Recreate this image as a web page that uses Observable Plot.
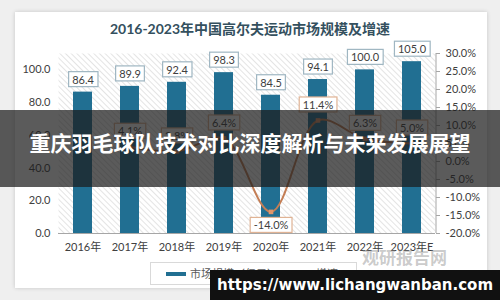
<!DOCTYPE html>
<html><head><meta charset="utf-8">
<script src="https://cdn.jsdelivr.net/npm/d3@7"></script>
<script src="https://cdn.jsdelivr.net/npm/@observablehq/plot@0.6"></script>
<style>
body{margin:0;background:#efefef;}
#wrap{position:relative;width:500px;height:300px;overflow:hidden;background:#efefef;font-family:Lato,"Noto Sans CJK SC",sans-serif;}
#card{position:absolute;left:15px;top:12px;width:472px;height:276px;background:#fff;box-shadow:0 0 4px rgba(0,0,0,0.18);}
#title{position:absolute;left:0;width:500px;top:19px;text-align:center;font-size:14px;font-weight:bold;color:#34505e;line-height:20px;}
#chart{position:absolute;left:0;top:0;}
#legend{position:absolute;left:150px;top:262px;width:205px;height:21px;border:1px solid #d9d9d9;background:#fff;font-size:11px;color:#595959;line-height:21px;}
#legend .sw1{position:absolute;left:15px;top:9px;width:20px;height:4px;background:#216f92;}
#legend .t1{position:absolute;left:39px;top:0;}
#legend .sw2{position:absolute;left:140px;top:10px;width:20px;height:2px;background:#c47e55;}
#legend .sq{position:absolute;left:147px;top:8px;width:6px;height:6px;background:#e0956a;}
#legend .t2{position:absolute;left:165px;top:0;}
#wm{position:absolute;left:362px;top:244px;font-size:17px;font-weight:bold;color:rgba(140,140,140,0.45);font-family:"Noto Sans CJK SC",sans-serif;}
#banner{position:absolute;left:0;top:110px;width:500px;height:77px;background:rgba(28,28,28,0.72);}
#banner div{position:absolute;left:0;width:500px;top:18px;text-align:center;color:#fff;font-weight:bold;font-size:21px;line-height:28px;font-family:"Noto Sans CJK SC",sans-serif;}
#footer{position:absolute;left:210px;top:270px;width:290px;height:30px;background:#111;color:#fff;font-weight:bold;font-size:15px;line-height:30px;text-align:center;font-family:"DejaVu Sans",sans-serif;}
</style>
</head><body>
<div id="wrap">
  <div id="card"></div>
  <div id="chart"></div>
  <div id="title">2016-2023年中国高尔夫运动市场规模及增速</div>
  <div id="legend"><span class="sw1"></span><span class="t1">市场规模（亿元）</span><span class="sw2"></span><span class="sq"></span><span class="t2">增速</span></div>
  <div id="wm">观研报告网</div>
  <div id="banner"><div>重庆羽毛球队技术对比深度解析与未来发展展望</div></div>
  <div id="footer">https://www.lichangwanban.com</div>
</div>
<script>
const years = ["2016年","2017年","2018年","2019年","2020年","2021年","2022年","2023年E"];
const marketSize = [86.4, 89.9, 92.4, 98.3, 84.5, 94.1, 100.0, 105.0];
const growthYears = ["2017年","2018年","2019年","2020年","2021年","2022年","2023年E"];
const growthRates = [4.1, 2.8, 6.4, -14.0, 11.4, 6.3, 5.0];
const leftTicks = [0, 20, 40, 60, 80, 100];
const rightTicks = [-20, -15, -10, -5, 0, 5, 10, 15, 20, 25, 30];

const leftMax = 110, gMin = -20, gMax = 30;
const toLeft = g => (g - gMin) / (gMax - gMin) * leftMax;
const fromLeft = v => v / leftMax * (gMax - gMin) + gMin;

const bars = years.map((y, i) => ({year: y, size: marketSize[i]}));
const growth = growthYears.map((y, i) => ({year: y, g: growthRates[i]}));

const font = 'Lato,"Noto Sans CJK SC",sans-serif';
const plot = Plot.plot({
  width: 500, height: 300,
  marginLeft: 58, marginRight: 65, marginTop: 53, marginBottom: 67,
  style: {background: "transparent", fontFamily: font, fontSize: "11px", color: "#404040"},
  x: {domain: years, paddingInner: 0.6, paddingOuter: 0.3, label: null},
  y: {domain: [0, leftMax], label: null},
  marks: [
    Plot.frame({fill: "url(#hatch)", stroke: "none"}),
    Plot.barY(bars, {x: "year", y: "size", fill: "#216f92"}),
    Plot.ruleY([0], {stroke: "#a6a6a6"}),
    Plot.axisY({ticks: leftTicks, tickSize: 0, tickPadding: 8, tickFormat: d => d.toFixed(1), label: null}),
    Plot.axisY({anchor: "right", ticks: rightTicks.map(toLeft), tickSize: 4, stroke: "#a6a6a6", tickPadding: 6,
      tickFormat: d => fromLeft(d).toFixed(1) + "%", label: null}),
    Plot.axisX({tickSize: 0, tickPadding: 10, label: null}),
    Plot.line(growth, {x: "year", y: d => toLeft(d.g), stroke: "#c47e55", strokeWidth: 2, curve: "catmull-rom"}),
    Plot.dot(growth, {x: "year", y: d => toLeft(d.g), symbol: "square", r: 2.6, fill: "#e0956a", stroke: "none"}),
    Plot.text(bars, {x: "year", y: "size", text: d => d.size.toFixed(1), dy: -12, fill: "#404040", fontSize: 11}),
    Plot.text(growth.filter(d => d.g >= 0), {x: "year", y: d => toLeft(d.g), text: d => d.g.toFixed(1) + "%", dy: -15, fill: "#404040", fontSize: 11}),
    Plot.text(growth.filter(d => d.g < 0), {x: "year", y: d => toLeft(d.g), text: d => d.g.toFixed(1) + "%", dy: 14, fill: "#404040", fontSize: 11})
  ]
});
document.getElementById("chart").appendChild(plot);

const svg = d3.select(plot);
const defs = svg.insert("defs", ":first-child");
const pat = defs.append("pattern").attr("id", "hatch").attr("patternUnits", "userSpaceOnUse")
  .attr("width", 4).attr("height", 4).attr("patternTransform", "rotate(-45)");
pat.append("rect").attr("width", 4).attr("height", 4).attr("fill", "#ffffff");
pat.append("line").attr("x1", 0).attr("y1", 0).attr("x2", 0).attr("y2", 4).attr("stroke", "#d6d6d6").attr("stroke-width", 1.3);

// right axis line
const xs = plot.scale("x"), ys = plot.scale("y");
const xr = xs.range[1], yr = ys.range;
svg.append("line").attr("x1", xr + 1).attr("x2", xr + 1).attr("y1", yr[0]).attr("y2", yr[1]).attr("stroke", "#a6a6a6");

// label boxes
const textGroups = plot.querySelectorAll('g[aria-label="text"]');
const boxStyles = [["#9fb6c2"], ["#e0b394"], ["#e0b394"]];
textGroups.forEach((g, gi) => {
  const stroke = boxStyles[gi] ? boxStyles[gi][0] : "#aaa";
  g.querySelectorAll("text").forEach(t => {
    const b = t.getBBox();
    const r = document.createElementNS("http://www.w3.org/2000/svg", "rect");
    r.setAttribute("x", b.x - 3.5);
    r.setAttribute("y", b.y - 1);
    r.setAttribute("width", b.width + 7);
    r.setAttribute("height", b.height + 2);
    r.setAttribute("fill", "#fff");
    r.setAttribute("stroke", stroke);
    r.setAttribute("stroke-width", 1.2);
    if (t.getAttribute("transform")) r.setAttribute("transform", t.getAttribute("transform"));
    t.parentNode.insertBefore(r, t);
  });
});
</script>
</body></html>
